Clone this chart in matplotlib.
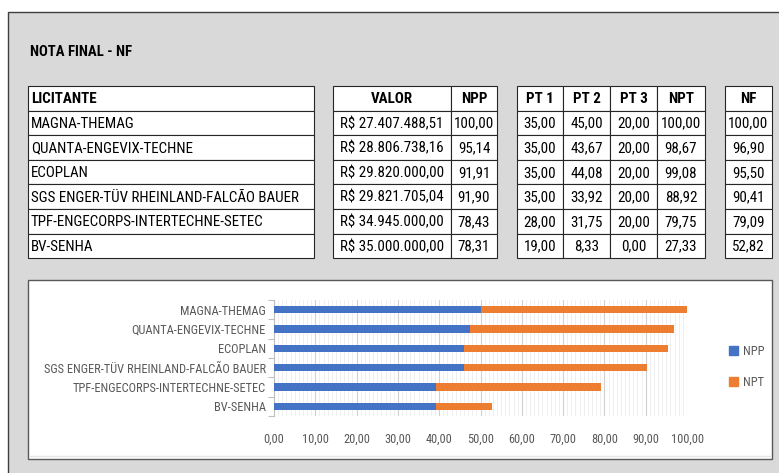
import matplotlib
matplotlib.use("Agg")
import matplotlib.pyplot as plt
from matplotlib.patches import Rectangle, Patch
from matplotlib.ticker import MultipleLocator, FuncFormatter
import matplotlib.font_manager as fm

# ---------------- data ----------------
licitantes = ["MAGNA-THEMAG", "QUANTA-ENGEVIX-TECHNE", "ECOPLAN",
              "SGS ENGER-TÜV RHEINLAND-FALCÃO BAUER",
              "TPF-ENGECORPS-INTERTECHNE-SETEC", "BV-SENHA"]
valor = [27407488.51, 28806738.16, 29820000.00, 29821705.04, 34945000.00, 35000000.00]
npp = [100.00, 95.14, 91.91, 91.90, 78.43, 78.31]
pt1 = [35.00, 35.00, 35.00, 35.00, 28.00, 19.00]
pt2 = [45.00, 43.67, 44.08, 33.92, 31.75, 8.33]
pt3 = [20.00, 20.00, 20.00, 20.00, 20.00, 0.00]
npt = [100.00, 98.67, 99.08, 88.92, 79.75, 27.33]
nf = [100.00, 96.90, 95.50, 90.41, 79.09, 52.82]
peso_npp = 0.5
peso_npt = 0.5
x_ticks = [0, 10, 20, 30, 40, 50, 60, 70, 80, 90, 100]

# ---------------- helpers ----------------
names = {f.name for f in fm.fontManager.ttflist}
FONT = "Lato"
for cand in ["Liberation Sans Narrow", "Roboto Condensed", "Open Sans Condensed",
             "DejaVu Sans Condensed", "Lato"]:
    if cand in names:
        FONT = cand
        break


def br(v):
    s = f"{v:,.2f}"
    return s.replace(",", "X").replace(".", ",").replace("X", ".")


W, H = 779, 473
fig = plt.figure(figsize=(W / 100, H / 100), dpi=100)
bg = fig.add_axes([0, 0, 1, 1])
bg.set_xlim(0, W)
bg.set_ylim(H, 0)
bg.axis("off")

# gray panel
bg.add_patch(Rectangle((8, 12), W, H, facecolor="#D9D9D9", edgecolor="#3F3F3F", lw=1.0))

fig.canvas.draw()
R = fig.canvas.get_renderer()


def fit(t, target):
    w = t.get_window_extent(R).width
    t.set_fontsize(t.get_fontsize() * target / w)
    return t.get_fontsize()


title = bg.text(30, 52, "NOTA FINAL - NF", fontfamily=FONT, fontweight="bold",
                fontsize=10, va="center", ha="left", color="black")
fit(title, 102)

# table font size from longest name
probe = bg.text(0, 0, licitantes[3], fontfamily=FONT, fontsize=10)
tsize = fit(probe, 268)
probe.remove()

top = 86.0
rh = 24.6
nrows = len(licitantes)

tables = [
    ([28, 314], ["LICITANTE"], [licitantes], ["left"]),
    ([333, 451, 497], ["VALOR", "NPP"],
     [["R$ " + br(v) for v in valor], [br(v) for v in npp]], ["center", "center"]),
    ([517, 563, 610, 657, 705], ["PT 1", "PT 2", "PT 3", "NPT"],
     [[br(v) for v in pt1], [br(v) for v in pt2], [br(v) for v in pt3], [br(v) for v in npt]],
     ["center"] * 4),
    ([725, 772], ["NF"], [[br(v) for v in nf]], ["center"]),
]

for edges, headers, cols, aligns in tables:
    for c in range(len(headers)):
        x0, x1 = edges[c], edges[c + 1]
        for r in range(nrows + 1):
            y0 = top + r * rh
            bg.add_patch(Rectangle((x0, y0), x1 - x0, rh, facecolor="white",
                                   edgecolor="#262626", lw=0.8))
            if r == 0:
                txt, weight = headers[c], "bold"
                ha = "left" if headers[c] == "LICITANTE" else "center"
            else:
                txt, weight = cols[c][r - 1], "normal"
                ha = aligns[c]
            xt = x0 + 3 if ha == "left" else (x0 + x1) / 2
            bg.text(xt, y0 + rh / 2 + 0.8, txt, fontfamily=FONT, fontweight=weight,
                    fontsize=tsize, ha=ha, va="center", color="black")

# chart box
bg.add_patch(Rectangle((28, 280), 744, 179, facecolor="white", edgecolor="#595959", lw=1.0))
bg.plot([30, 770], [456, 456], color="#E5E5E5", lw=1.0)

# chart axes
px0, px1, py0, py1 = 274, 687, 300, 416
ax = fig.add_axes([px0 / W, 1 - py1 / H, (px1 - px0) / W, (py1 - py0) / H])
ypos = list(range(nrows))
a = [v * peso_npp for v in npp]
b = [v * peso_npt for v in npt]
ax.barh(ypos, a, height=0.37, color="#4472C4", label="NPP", zorder=3)
ax.barh(ypos, b, left=a, height=0.37, color="#ED7D31", label="NPT", zorder=3)
ax.set_ylim(nrows - 0.5, -0.5)
ax.set_xlim(x_ticks[0], x_ticks[-1])
ax.set_xticks(x_ticks)
ax.xaxis.set_minor_locator(MultipleLocator(1))
ax.xaxis.set_major_formatter(FuncFormatter(lambda v, p: br(v)))
ax.grid(axis="x", which="major", color="#D0D0D0", lw=0.8, zorder=0)
ax.grid(axis="x", which="minor", color="#EDEDED", lw=0.6, zorder=0)
ax.set_axisbelow(True)
ax.set_yticks(ypos)
ax.set_yticklabels(licitantes)
ax.set_yticks([i - 0.5 for i in range(nrows + 1)], minor=True)
ax.tick_params(axis="y", which="major", length=0, pad=6, colors="#595959")
ax.tick_params(axis="y", which="minor", length=4, color="#BFBFBF", width=0.8)
ax.tick_params(axis="x", which="both", length=0, pad=12, colors="#595959")
for s in ["top", "right", "bottom"]:
    ax.spines[s].set_visible(False)
ax.spines["left"].set_color("#BFBFBF")
ax.spines["left"].set_linewidth(0.8)
ax.set_facecolor("white")

fig.canvas.draw()
lab = ax.get_yticklabels()[3]
lab.set_fontfamily(FONT)
w = lab.get_window_extent(R).width
csize = lab.get_fontsize() * 223 / w
for t in ax.get_yticklabels() + ax.get_xticklabels():
    t.set_fontfamily(FONT)
    t.set_fontsize(csize)

handles = [Patch(color="#4472C4", label="NPP"), Patch(color="#ED7D31", label="NPT")]
leg = fig.legend(handles=handles, loc="center left",
                 bbox_to_anchor=(718 / W, 1 - 367 / H), frameon=False,
                 prop={"family": FONT, "size": csize}, labelcolor="#595959",
                 handlelength=0.7, handleheight=0.7, handletextpad=0.4,
                 labelspacing=1.45)

fig.savefig("out.png", dpi=100)
